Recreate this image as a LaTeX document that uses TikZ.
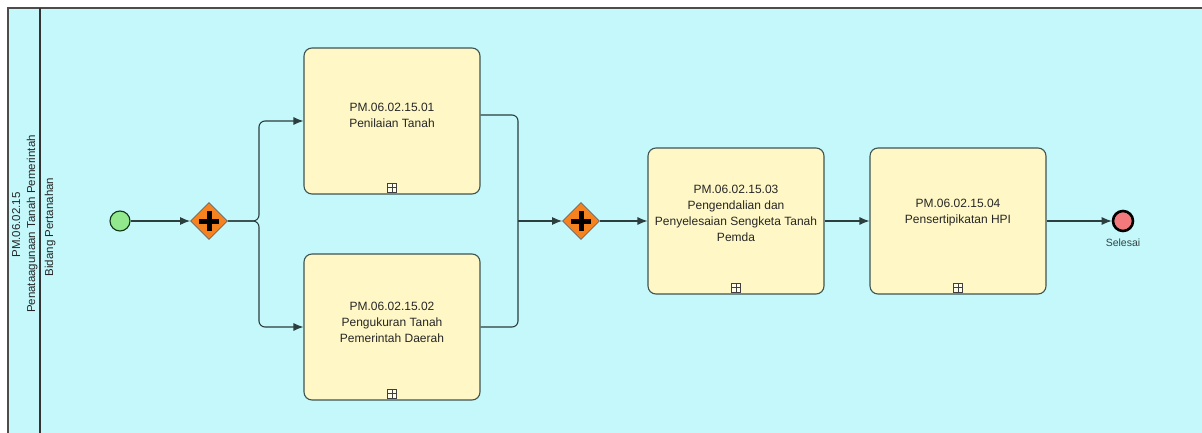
\documentclass[tikz,border=0pt]{standalone}
\usepackage{fontspec}
\setmainfont{Liberation Sans}
\usetikzlibrary{arrows.meta,positioning,shapes.geometric}
\definecolor{poolbg}{HTML}{C4F8FB}
\definecolor{taskfill}{HTML}{FFF8C6}
\definecolor{edgex}{HTML}{3E5552}
\definecolor{flowx}{HTML}{2C3E3E}
\definecolor{gwfill}{HTML}{F5821F}
\definecolor{startfill}{HTML}{92E88C}
\definecolor{endfill}{HTML}{F27A7C}
\tikzset{
  ar/.style={-{Latex[length=10pt,width=8pt]},line width=1.1pt,flowx},
  flow/.style={line width=1.1pt,flowx},
  task/.style={draw=edgex,line width=1.1pt,rounded corners=8pt,fill=taskfill,minimum width=176pt,minimum height=146pt},
  tasktxt/.style={align=center,font=\fontsize{12}{16}\selectfont,text=black!85},
  sub/.style={draw=black!75,line width=0.8pt,fill=white!60!taskfill,minimum size=9pt,inner sep=0pt,
    path picture={\draw[black!75,line width=0.8pt] (path picture bounding box.north) -- (path picture bounding box.south)
      (path picture bounding box.west) -- (path picture bounding box.east);}},
  gw/.style={diamond,draw=black!60,line width=0.8pt,fill=gwfill,minimum size=37pt,inner sep=0pt},
  gwplus/.style={line width=5pt,black},
  evstart/.style={circle,draw=edgex!70!green!40!black,line width=1.1pt,fill=startfill,minimum size=20pt,inner sep=0pt},
  evend/.style={circle,draw=black,line width=2.6pt,fill=endfill,minimum size=20pt,inner sep=0pt},
  lanetxt/.style={rotate=90,font=\fontsize{11.5}{13}\selectfont,text=black!85,inner sep=0pt,anchor=base}
}
\begin{document}
\begin{tikzpicture}[x=1pt,y=-1pt]
\useasboundingbox (0,0) rectangle (1202,433);
\clip (0,0) rectangle (1202,433);
% pool and lane
\fill[white] (0,0) rectangle (1202,433);
\draw[fill=poolbg,draw=black!70,line width=1.2pt] (8,8) rectangle (1220,450);
\draw[black!80,line width=1.2pt] (40,8) -- (40,450);
\node[lanetxt] (ln1) at (20,225) {PM.06.02.15};
\node[lanetxt] (ln2) at (35,224) {Penataagunaan Tanah Pemerintah};
\node[lanetxt] (ln3) at (53,227) {Bidang Pertanahan};
% events and gateways
\node[evstart] (st) at (120,221) {};
\node[gw] (g1) at (209,221) {};
\draw[gwplus] (g1.center) +(-10,0) -- +(10,0) (g1.center) +(0,-10) -- +(0,10);
\node[gw] (g2) at (581,221) {};
\draw[gwplus] (g2.center) +(-10,0) -- +(10,0) (g2.center) +(0,-10) -- +(0,10);
\node[evend] (en) at (1123,221) {};
\node[font=\fontsize{10.5}{12}\selectfont,text=edgex!80!black,below=3pt of en] (enl) {Selesai};
% tasks
\node[task] (t1) at (392,121) {};
\node[tasktxt] (t1x) at ([yshift=6pt]t1.center) {PM.06.02.15.01\\Penilaian Tanah};
\node[sub,above=2pt of t1.south] (t1s) {};
\node[task] (t2) at (392,327) {};
\node[tasktxt] (t2x) at ([yshift=5pt]t2.center) {PM.06.02.15.02\\Pengukuran Tanah\\Pemerintah Daerah};
\node[sub,above=2pt of t2.south] (t2s) {};
\node[task] (t3) at (736,221) {};
\node[tasktxt] (t3x) at ([yshift=8pt]t3.center) {PM.06.02.15.03\\Pengendalian dan\\Penyelesaian Sengketa Tanah\\Pemda};
\node[sub,above=2pt of t3.south] (t3s) {};
\node[task] (t4) at (958,221) {};
\node[tasktxt] (t4x) at ([yshift=8pt]t4.center) {PM.06.02.15.04\\Pensertipikatan HPI};
\node[sub,above=2pt of t4.south] (t4s) {};
% flows
\coordinate (sp) at (259,221);
\coordinate (jn) at (518,221);
\draw[ar] (st) -- (g1);
\draw[ar,rounded corners=6pt] (g1.east) -- (sp) |- (t1.west);
\draw[ar,rounded corners=6pt] (g1.east) -- (sp) |- (t2.west);
\draw[flow,rounded corners=6pt] ([yshift=6pt]t1.east) -| (jn);
\draw[flow,rounded corners=6pt] (t2.east) -| (jn);
\draw[ar] (jn) -- (g2.west);
\draw[ar] (g2) -- (t3);
\draw[ar] (t3) -- (t4);
\draw[ar] (t4) -- (en);
\end{tikzpicture}
\end{document}
